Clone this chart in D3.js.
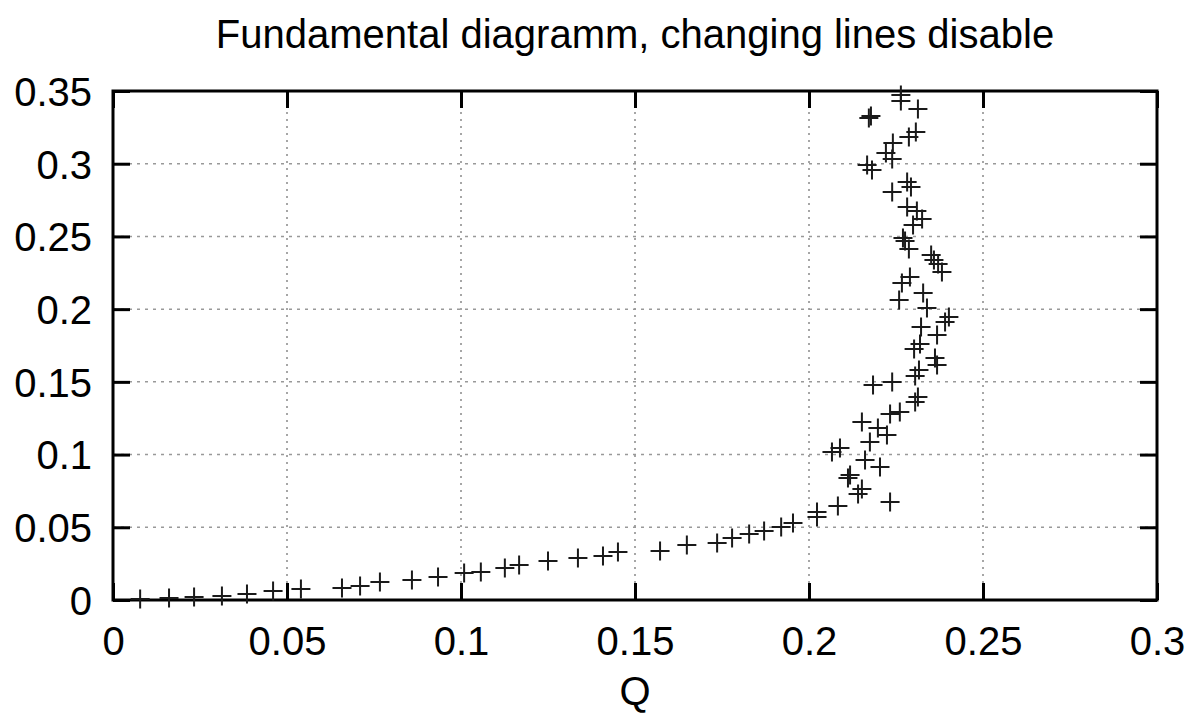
<!DOCTYPE html>
<html>
<head>
<meta charset="utf-8">
<script src="https://cdn.jsdelivr.net/npm/d3@7"></script>
<style>
  body { margin: 0; background: #fff; }
  text { font-family: "Liberation Sans", Arial, sans-serif; fill: #000; }
</style>
</head>
<body>
<svg id="chart"></svg>
<script>
// Data: flow Q (x) against density (y)
const qValues = [
  0.0078, 0.0161, 0.0233, 0.0313, 0.0385, 0.0460, 0.0540, 0.0658, 0.0710, 0.0767,
  0.0859, 0.0934, 0.1009, 0.1057, 0.1126, 0.1167, 0.1250, 0.1336, 0.1408, 0.1451,
  0.1572, 0.1649, 0.1736, 0.1779, 0.1828, 0.1871, 0.1920, 0.1954, 0.2023, 0.2023,
  0.2083, 0.2233, 0.2152, 0.2141, 0.2118, 0.2112, 0.2204, 0.2161, 0.2066, 0.2089,
  0.2175, 0.2224, 0.2198, 0.2152, 0.2233, 0.2261, 0.2305, 0.2313, 0.2184, 0.2239,
  0.2305, 0.2316, 0.2362, 0.2368, 0.2302, 0.2319, 0.2368, 0.2322, 0.2391, 0.2402,
  0.2339, 0.2259, 0.2328, 0.2267, 0.2290, 0.2382, 0.2371, 0.2359, 0.2351, 0.2287,
  0.2270, 0.2276, 0.2299, 0.2325, 0.2310, 0.2282, 0.2239, 0.2293, 0.2282, 0.2181,
  0.2167, 0.2239, 0.2221, 0.2241, 0.2287, 0.2307, 0.2178, 0.2172, 0.2313, 0.2264,
  0.2264
];
const densityValues = [
  0.0007, 0.0014, 0.0021, 0.0028, 0.0041, 0.0062, 0.0076, 0.0083, 0.0096, 0.0124,
  0.0138, 0.0158, 0.0186, 0.0193, 0.0220, 0.0241, 0.0268, 0.0289, 0.0303, 0.0330,
  0.0337, 0.0378, 0.0392, 0.0426, 0.0454, 0.0474, 0.0502, 0.0529, 0.0571, 0.0605,
  0.0646, 0.0674, 0.0763, 0.0729, 0.0860, 0.0839, 0.0915, 0.0963, 0.1018, 0.1045,
  0.1086, 0.1135, 0.1183, 0.1224, 0.1279, 0.1293, 0.1361, 0.1396, 0.1478, 0.1499,
  0.1540, 0.1581, 0.1664, 0.1616, 0.1726, 0.1760, 0.1822, 0.1877, 0.1911, 0.1946,
  0.2008, 0.2063, 0.2111, 0.2180, 0.2221, 0.2255, 0.2310, 0.2338, 0.2372, 0.2413,
  0.2489, 0.2469, 0.2579, 0.2620, 0.2675, 0.2702, 0.2805, 0.2840, 0.2874, 0.2957,
  0.2991, 0.3032, 0.3074, 0.3142, 0.3184, 0.3218, 0.3328, 0.3314, 0.3376, 0.3431,
  0.3472
];
const xTicks = [0, 0.05, 0.1, 0.15, 0.2, 0.25, 0.3];
const yTicks = [0, 0.05, 0.1, 0.15, 0.2, 0.25, 0.3, 0.35];
const titleText = "Fundamental diagramm, changing lines disable";
const xLabel = "Q";

const width = 1192, height = 715;
const margin = {top: 91, right: 35, bottom: 115, left: 113};
const innerW = width - margin.left - margin.right,
      innerH = height - margin.top - margin.bottom;

const svg = d3.select("#chart")
  .attr("width", width)
  .attr("height", height);

const x = d3.scaleLinear().domain([0, 0.3]).range([0, innerW]);
const y = d3.scaleLinear().domain([0, 0.35]).range([innerH, 0]);

const g = svg.append("g")
  .attr("transform", `translate(${margin.left},${margin.top})`);

// Dotted grid
g.append("g").selectAll("line")
  .data(xTicks.slice(1, -1))
  .enter().append("line")
  .attr("x1", d => x(d)).attr("x2", d => x(d))
  .attr("y1", 0).attr("y2", innerH)
  .attr("stroke", "#777").attr("stroke-width", 1.3)
  .attr("stroke-dasharray", "2,5");

g.append("g").selectAll("line")
  .data(yTicks.slice(1, -1))
  .enter().append("line")
  .attr("x1", 0).attr("x2", innerW)
  .attr("y1", d => y(d)).attr("y2", d => y(d))
  .attr("stroke", "#999").attr("stroke-width", 1.5)
  .attr("stroke-dasharray", "3,5");

// Inward ticks on all four sides (mirrored)
const tickLen = 17;
const fmt = d => d3.format("")(+d.toFixed(2));

const bottomAxis = g.append("g")
  .attr("transform", `translate(0,${innerH})`)
  .call(d3.axisBottom(x).tickValues(xTicks).tickSize(-tickLen).tickPadding(55).tickFormat(fmt));
const topAxis = g.append("g")
  .call(d3.axisTop(x).tickValues(xTicks).tickSize(-tickLen).tickFormat(""));
const leftAxis = g.append("g")
  .call(d3.axisLeft(y).tickValues(yTicks).tickSize(-tickLen).tickPadding(21).tickFormat(fmt));
const rightAxis = g.append("g")
  .attr("transform", `translate(${innerW},0)`)
  .call(d3.axisRight(y).tickValues(yTicks).tickSize(-tickLen).tickFormat(""));

[bottomAxis, topAxis, leftAxis, rightAxis].forEach(a => {
  a.select(".domain").remove();
  a.selectAll(".tick line").attr("stroke", "#000").attr("stroke-width", 3);
  a.selectAll(".tick text").style("font-size", "40px").attr("fill", "#000");
});
bottomAxis.selectAll(".tick text").attr("dy", "0");
leftAxis.selectAll(".tick text").attr("dy", "0.36em");

// Frame
g.append("rect")
  .attr("width", innerW).attr("height", innerH)
  .attr("fill", "none").attr("stroke", "#000").attr("stroke-width", 3);

// Plus-sign points
const pts = qValues.map((q, i) => ({q: q, rho: densityValues[i]}));
const arm = 9.5;
const marks = g.append("g").attr("stroke", "#1a1a1a").attr("stroke-width", 2);
marks.selectAll("path")
  .data(pts)
  .enter().append("path")
  .attr("d", d => {
    const px = x(d.q), py = y(d.rho);
    return `M${px - arm},${py}H${px + arm}M${px},${py - arm}V${py + arm}`;
  });

// Title and axis label
svg.append("text")
  .attr("x", 635).attr("y", 48)
  .attr("text-anchor", "middle")
  .style("font-size", "40px")
  .text(titleText);

svg.append("text")
  .attr("x", 635).attr("y", 705)
  .attr("text-anchor", "middle")
  .style("font-size", "40px")
  .text(xLabel);
</script>
</body>
</html>
